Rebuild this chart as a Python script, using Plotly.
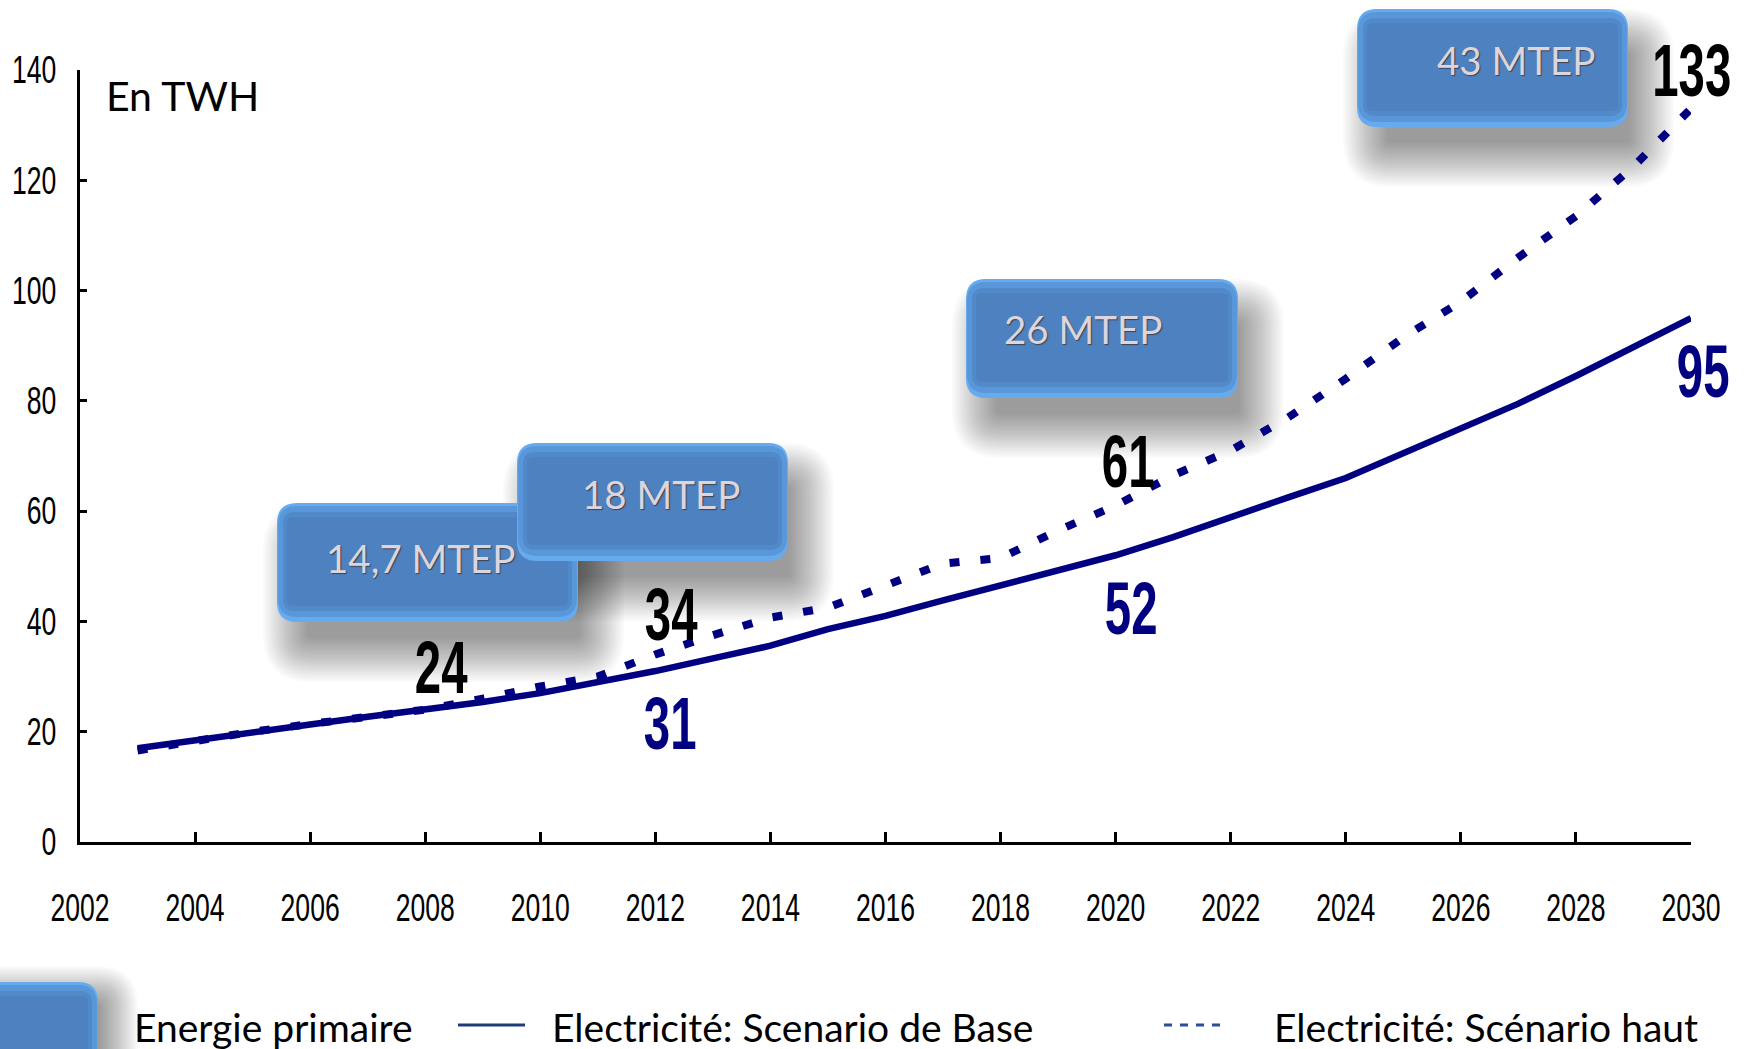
import plotly.graph_objects as go

# ---- data -------------------------------------------------------------
years = list(range(2003, 2031))

# Electricité : scénario de base (TWh)
base_twh = [17, 18.5, 20, 21.3, 22.7, 24, 25.4, 27, 29, 31,
            33.3, 35.6, 38.6, 41, 43.8, 46.5, 49.3, 52, 55.3, 59,
            62.5, 66, 70.5, 75, 79.5, 84.5, 89.7, 95]

# Electricité : scénario haut (TWh)
haut_twh = [16.6, 18.4, 20, 21.4, 22.8, 24, 26, 28.2, 30, 34,
            37.5, 40.7, 42.5, 46.4, 50.5, 51.5, 56.5, 61, 66.5, 71,
            77, 84, 91.5, 98, 106, 113.5, 122.5, 133]

# years whose values are written next to the curves
haut_label_years = [2008, 2012, 2020, 2030]
base_label_years = [2012, 2020, 2030]

# primary energy call-outs (MTEP)
energie_labels = ["14,7 MTEP", "18 MTEP", "26 MTEP", "43 MTEP"]

x_ticks = list(range(2002, 2031, 2))
y_ticks = list(range(0, 141, 20))

unit_label = "En TWH"
legend_names = ["Energie primaire",
                "Electricité: Scenario de Base",
                "Electricité: Scénario haut"]

# ---- page geometry ----------------------------------------------------
W, H = 1750, 1049
ML, MR, MT, MB = 80, 59, 70, 207
PW, PH = W - ML - MR, H - MT - MB

NAVY = "#000080"
# numbers are set in Liberation Sans and condensed after rendering (see JS below)
NARROW = "Liberation Sans, Arial, sans-serif"
SANS = "Lato, Carlito, Calibri, Open Sans, sans-serif"


def px(x):
    return (x - ML) / PW


def py(y):
    return (H - MB - y) / PH


def rrect(x0, y0, x1, y1, r):
    """Rounded rectangle path (pixel box, converted to paper coords)."""
    pts = [
        ("M", [(x0 + r, y0)]),
        ("L", [(x1 - r, y0)]),
        ("Q", [(x1, y0), (x1, y0 + r)]),
        ("L", [(x1, y1 - r)]),
        ("Q", [(x1, y1), (x1 - r, y1)]),
        ("L", [(x0 + r, y1)]),
        ("Q", [(x0, y1), (x0, y1 - r)]),
        ("L", [(x0, y0 + r)]),
        ("Q", [(x0, y0), (x0 + r, y0)]),
    ]
    out = []
    for cmd, ps in pts:
        out.append(cmd + " " + " ".join(f"{px(a):.5f},{py(b):.5f}" for a, b in ps))
    return " ".join(out) + " Z"


shapes = []


def shadow(x0, y0, x1, y1, dx=16, dy=30, spread=30, inner=14, n=22, alpha=0.02):
    # soft drop shadow built from stacked translucent rounded rectangles
    for i in range(n):
        e = spread - i * (spread + inner) / (n - 1)
        shapes.append(dict(
            type="path", xref="paper", yref="paper", layer="below",
            path=rrect(x0 + dx - e, y0 + dy - e, x1 + dx + e, y1 + dy + e,
                       max(4, 18 + e)),
            fillcolor=f"rgba(0,0,0,{alpha})", line=dict(width=0)))


def bevel_box(x0, y0, x1, y1):
    layers = [
        ((0, 0, 0, 0), 20, "#67abee"),
        ((1, 3, 1, 5), 19, "#5897da"),
        ((6, 9, 6, 11), 12, "#5189c9"),
        ((10, 14, 10, 16), 6, "#4e81bf"),
    ]
    for (l, t, r, b), rad, col in layers:
        shapes.append(dict(type="path", xref="paper", yref="paper", layer="below",
                           path=rrect(x0 + l, y0 + t, x1 - r, y1 - b, rad),
                           fillcolor=col, line=dict(width=0)))


# call-out boxes (pixel boxes) and text anchors
boxes = [(277, 503, 578, 622), (517, 443, 788, 561),
         (966, 279, 1238, 398), (1357, 9, 1628, 127)]
text_pos = [(420, 558), (661, 494), (1083, 329), (1516, 60)]

for b in boxes:
    shadow(*b)
shadow(-40, 982, 98, 1100, dx=16, dy=8, spread=24)
for b in boxes:
    bevel_box(*b)
bevel_box(-40, 982, 98, 1100)

annotations = []
for label, (tx, ty) in zip(energie_labels, text_pos):
    annotations.append(dict(
        x=px(tx), y=py(ty), xref="paper", yref="paper", text=label,
        showarrow=False, xanchor="center", yanchor="middle",
        font=dict(family=SANS, size=38.5, color="#ddd5de",
                  shadow="1px 1px 1px #3d4250")))

# unit label
annotations.append(dict(
    x=px(104), y=py(95), xref="paper", yref="paper", text=unit_label,
    showarrow=False, xanchor="left", yanchor="middle",
    font=dict(family=SANS, size=41, color="black")))

# value labels on the curves: (x shift, y shift)
haut_shift = {2008: (16, 42), 2012: (16, 40), 2020: (12, 44), 2030: (0, 38)}
base_shift = {2012: (15, -52), 2020: (15, -53), 2030: (12, -53)}


def value_label(yr, v, shift, color):
    dx, dy = shift
    return dict(
        x=yr, y=v, xref="x", yref="y", text=f"{v:g}", showarrow=False,
        xshift=dx, yshift=dy, xanchor="center", yanchor="middle",
        font=dict(family=NARROW, size=74, color=color, weight="bold"))


for yr in haut_label_years:
    annotations.append(value_label(yr, haut_twh[years.index(yr)],
                                   haut_shift[yr], "black"))
for yr in base_label_years:
    annotations.append(value_label(yr, base_twh[years.index(yr)],
                                   base_shift[yr], NAVY))

# legend row
LEG_Y = 1027
legend_x = [132, 550, 1272]
for name, lx in zip(legend_names, legend_x):
    annotations.append(dict(
        x=px(lx), y=py(LEG_Y), xref="paper", yref="paper", text=name,
        showarrow=False, xanchor="left", yanchor="middle",
        font=dict(family=SANS, size=39, color="black")))
shapes.append(dict(type="line", xref="paper", yref="paper",
                   x0=px(458), x1=px(525), y0=py(LEG_Y - 2), y1=py(LEG_Y - 2),
                   line=dict(color="#1f3d7a", width=3)))
shapes.append(dict(type="line", xref="paper", yref="paper",
                   x0=px(1164), x1=px(1228), y0=py(LEG_Y - 2), y1=py(LEG_Y - 2),
                   line=dict(color="#2b4f94", width=3, dash="8px,8px")))

# ---- figure -----------------------------------------------------------
fig = go.Figure()
fig.add_trace(go.Scatter(
    x=years, y=base_twh, mode="lines", name=legend_names[1],
    line=dict(color=NAVY, width=6.5), showlegend=False))
fig.add_trace(go.Scatter(
    x=years, y=haut_twh, mode="lines", name=legend_names[2],
    line=dict(color=NAVY, width=8, dash="10px,21px"), showlegend=False))

fig.update_layout(
    width=W, height=H,
    margin=dict(l=ML, r=MR, t=MT, b=MB, pad=0, autoexpand=False),
    paper_bgcolor="white", plot_bgcolor="rgba(0,0,0,0)",
    shapes=shapes, annotations=annotations, showlegend=False,
)
fig.update_xaxes(
    range=[2002, 2030], tickvals=x_ticks, ticktext=[str(t) for t in x_ticks],
    automargin=False,
    showgrid=False, zeroline=False, showline=True, linecolor="black", linewidth=3,
    ticks="inside", ticklen=10, tickwidth=2.5, tickcolor="black",
    ticklabelstandoff=30,
    tickfont=dict(family=NARROW, size=38, color="black"))
fig.update_yaxes(
    range=[0, 140], tickvals=y_ticks, automargin=False,
    showgrid=False, zeroline=False, showline=True, linecolor="black", linewidth=3,
    ticks="inside", ticklen=7, tickwidth=2.5, tickcolor="black",
    ticklabelstandoff=13,
    tickfont=dict(family=NARROW, size=38, color="black"))

# Condense the numeric labels (tick labels and curve values) horizontally
# by scaling each text about its own anchor point.
condense_js = """
document.querySelectorAll('text').forEach(function (t) {
  var ff = t.style.fontFamily || '';
  if (ff.indexOf('Liberation Sans') < 0) { return; }
  var fw = t.style.fontWeight || '';
  var bold = fw === 'bold' || fw === '700';
  var k = bold ? 0.64 : 0.70;
  var ax = parseFloat(t.getAttribute('x') || '0');
  var tr = t.getAttribute('transform') || '';
  t.setAttribute('transform', (tr + ' translate(' + ax + ',0) scale(' + k +
                 ',1) translate(' + (-ax) + ',0)').trim());
  var bg = t.parentNode && t.parentNode.querySelector('rect.bg');
  if (bg) {
    var bx = parseFloat(bg.getAttribute('x') || '0');
    var bw = parseFloat(bg.getAttribute('width') || '0');
    var nw = bw * k;
    bg.setAttribute('x', (bx + (bw - nw) / 2).toFixed(1));
    bg.setAttribute('width', nw.toFixed(1));
  }
});
"""

fig.write_html("out.html", post_script=condense_js)
